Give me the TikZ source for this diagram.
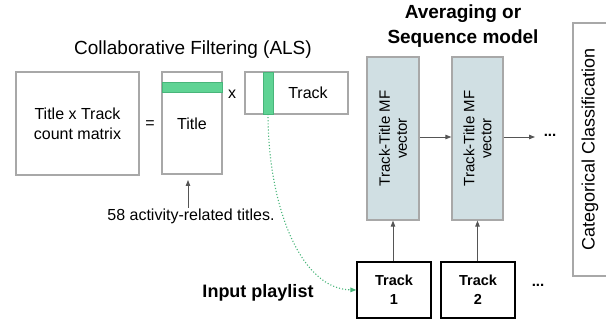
\documentclass[tikz,border=0pt]{standalone}
\usepackage{fontspec}
\setmainfont{Liberation Sans}
\usetikzlibrary{arrows.meta}
\definecolor{boxgray}{HTML}{A8A8A8}
\definecolor{greenf}{HTML}{5FD394}
\definecolor{greend}{HTML}{48B57A}
\definecolor{bluef}{HTML}{D0DFE3}
\definecolor{arrowc}{HTML}{555555}
\tikzset{
  mat/.style={draw=boxgray, line width=1.2pt, inner sep=0pt, align=center, font=\fontsize{16}{20}\selectfont},
  vec/.style={draw=boxgray, fill=bluef, line width=1.2pt, inner sep=0pt, minimum height=163pt},
  trk/.style={draw=black, line width=1.2pt, inner sep=0pt, minimum width=74pt, minimum height=56pt, align=center, font=\fontsize{14.5}{19}\selectfont\bfseries},
  gbar/.style={fill=greenf, draw=greend, line width=0.6pt},
  arr/.style={draw=arrowc, line width=0.9pt, -{Triangle[length=6pt,width=4.5pt]}},
  head/.style={font=\fontsize{19}{25}\selectfont, align=center},
  plain/.style={font=\fontsize{16}{20}\selectfont, align=center, inner sep=0pt},
}
\begin{document}
\begin{tikzpicture}[x=1pt,y=-1pt]
\useasboundingbox (0,0) rectangle (606,323);
\clip (0,0) rectangle (606,323);
% left part
\node[head] (cfhead) at (193,50) {Collaborative Filtering (ALS)};
\node[mat, minimum width=123pt, minimum height=103pt] (cm) at (77.5,123.5) {Title x Track\\count matrix};
\node[plain] (eq) at (150,125) {=};
\node[mat, minimum width=60pt, minimum height=102pt] (title) at (192,123) {};
\fill[gbar] (162,82) rectangle (222,92);
\node[plain] at (192,124) {Title};
\node[plain] (times) at (232,94) {x};
\node[mat, minimum width=103pt, minimum height=42pt] (track) at (296.5,93) {};
\fill[gbar] (263,72) rectangle (273,114);
\coordinate (gbot) at (268,114);
\node[plain] at (308,93) {Track};
\node[plain] (lbl) at (191,216) {58 activity-related titles.};
\draw[arr] (188,208) -- (188,180);
% right part
\node[head, font=\fontsize{19}{25}\selectfont\bfseries] (avg) at (463,26) {Averaging or\\Sequence model};
\node[vec, minimum width=52pt] (v1) at (393,138.5) {};
\node[vec, minimum width=51pt] (v2) at (477.5,138.5) {};
\node[rotate=90, align=center, font=\fontsize{15}{17}\selectfont, inner sep=0pt] at (v1.center) {Track-Title MF\\vector};
\node[rotate=90, align=center, font=\fontsize{15}{17}\selectfont, inner sep=0pt] at (v2.center) {Track-Title MF\\vector};
\coordinate (aend) at (535,137);
\node[font=\fontsize{15}{18}\selectfont\bfseries, inner sep=0pt] (dots1) at (550,135) {...};
\draw[arr] (v1.east |- 0,137) -- (v2.west |- 0,137);
\draw[arr] (v2.east |- 0,137) -- (aend);
\node[draw=boxgray, line width=1.2pt, minimum width=38pt, minimum height=253pt, inner sep=0pt] (cat) at (592,149.5) {};
\node[rotate=90, font=\fontsize{18}{20}\selectfont, inner sep=0pt] at (590,149.5) {Categorical Classification};
\node[trk] (t1) at (394,290) {Track\\1};
\node[trk] (t2) at (478,290) {Track\\2};
\node[font=\fontsize{15}{18}\selectfont\bfseries, inner sep=0pt] (dots2) at (538,285) {...};
\draw[arr] (t1.north -| v1.south) -- (v1.south);
\draw[arr] (t2.north -| v2.south) -- (v2.south);
\node[font=\fontsize{18}{22}\selectfont\bfseries, inner sep=0pt] (inp) at (258,293) {Input playlist};
\draw[greend, line width=1.1pt, dotted, -{Triangle[length=6pt,width=4.5pt]}] (gbot) .. controls (268,205) and (300,289) .. (t1.west);
\end{tikzpicture}
\end{document}
